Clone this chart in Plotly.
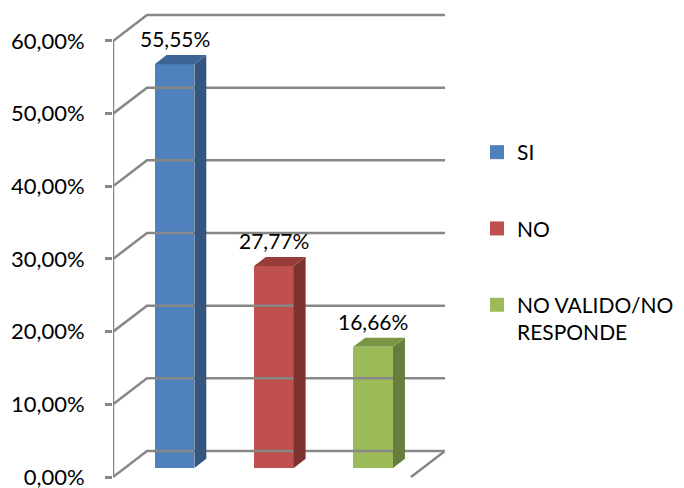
import plotly.graph_objects as go

# ---- data ----
categories = ["SI", "NO", "NO VALIDO/NO<br>RESPONDE"]
values = [55.55, 27.77, 16.66]
value_labels = ["55,55%", "27,77%", "16,66%"]
front_colors = ["#4F81BD", "#C0504D", "#9BBB59"]
side_colors = ["#35577F", "#7E3230", "#677D3B"]
top_colors = ["#3D6697", "#963C39", "#7A9643"]
tick_values = [0, 10, 20, 30, 40, 50, 60]
tick_labels = ["0,00%", "10,00%", "20,00%", "30,00%", "40,00%", "50,00%", "60,00%"]

# ---- geometry (oblique 3D projection) ----
OFF = 8                        # page body margin
W, H = 684 - OFF, 488
L_PX, R_PX = 113 - OFF, 445 - OFF   # plot area in figure pixels
PX_X = 99.3                    # px per category unit
PX_Y = 7.267                   # px per percent unit
ZERO_PX = 477 - OFF            # pixel of 0% on front plane
DX = 34 / PX_X                 # depth shift in x units
DY = 26 / PX_Y                 # depth shift in y units
X_LO = -0.5
X_HI = X_LO + (R_PX - L_PX) / PX_X
Y_HI = ZERO_PX / PX_Y
Y_LO = -(H - ZERO_PX) / PX_Y
D0 = 0.35                      # bar front depth
BD = 0.35                      # bar depth
BW = 0.4                       # bar width
GRID = "#878787"
FONT = "Lato"

def proj(x, y, d):
    return x + d * DX, y + d * DY

fig = go.Figure()

# walls / gridlines
for v in tick_values:
    x0, y0 = proj(X_LO, v, 0)
    x1, y1 = proj(X_LO, v, 1)
    x2, y2 = proj(X_HI - DX, v, 1)
    fig.add_trace(go.Scatter(x=[x0, x1, x2], y=[y0, y1, y2], mode="lines",
                             line=dict(color=GRID, width=2.5), showlegend=False, hoverinfo="skip"))
# front vertical axis line
fig.add_trace(go.Scatter(x=[X_LO, X_LO], y=[0, tick_values[-1]], mode="lines",
                         line=dict(color=GRID, width=2.5), showlegend=False, hoverinfo="skip"))
# floor right edge
fx0, fy0 = proj(X_HI - DX, 0, 0)
fx1, fy1 = proj(X_HI - DX, 0, 1)
fig.add_trace(go.Scatter(x=[fx0, fx1], y=[fy0, fy1], mode="lines",
                         line=dict(color=GRID, width=2.5), showlegend=False, hoverinfo="skip"))

# bars
for i, (c, v) in enumerate(zip(categories, values)):
    cx, base = proj(i, 0, D0)
    xl, xr = cx - BW / 2, cx + BW / 2
    top = v + base
    fig.add_trace(go.Bar(x=[cx], y=[v], base=[base], width=BW, name=c,
                         marker=dict(color=front_colors[i], line=dict(width=0)),
                         showlegend=False, hoverinfo="skip"))
    sx = [xr, xr + BD * DX, xr + BD * DX, xr, xr]
    sy = [base, base + BD * DY, top + BD * DY, top, base]
    fig.add_trace(go.Scatter(x=sx, y=sy, fill="toself", mode="none", fillcolor=side_colors[i],
                             showlegend=False, hoverinfo="skip"))
    tx = [xl, xl + BD * DX, xr + BD * DX, xr, xl]
    ty = [top, top + BD * DY, top + BD * DY, top, top]
    fig.add_trace(go.Scatter(x=tx, y=ty, fill="toself", mode="none", fillcolor=top_colors[i],
                             showlegend=False, hoverinfo="skip"))
    fig.add_annotation(x=cx, y=top + BD * DY, text=value_labels[i], showarrow=False,
                       yanchor="bottom", yshift=2, font=dict(family=FONT, size=21, color="#000"))
    # legend entry (square key)
    fig.add_trace(go.Scatter(x=[None], y=[None], mode="markers", name=c, legendgroup=c,
                             marker=dict(symbol="square", size=14, color=front_colors[i],
                                         line=dict(width=0))))

fig.update_layout(
    width=W, height=H, autosize=False,
    margin=dict(l=L_PX, r=W - R_PX, t=0, b=0, autoexpand=False),
    plot_bgcolor="white", paper_bgcolor="white",
    bargap=0, barmode="overlay",
    font=dict(family=FONT, size=21, color="#000"),
    xaxis=dict(range=[X_LO, X_HI], showgrid=False, zeroline=False, showticklabels=False,
               showline=False, ticks="", automargin=False),
    yaxis=dict(range=[Y_LO, Y_HI], showgrid=False, zeroline=False, showline=False,
               tickvals=tick_values, ticktext=tick_labels, ticks="outside", ticklen=7,
               tickcolor=GRID, tickwidth=2.5, ticklabelstandoff=16, automargin=False,
               ticklabeloverflow="allow",
               tickfont=dict(family=FONT, size=22, color="#000")),
    legend=dict(x=(477 - L_PX - OFF) / (R_PX - L_PX), xanchor="left", y=1 - (132 - OFF) / H,
                yanchor="top", traceorder="grouped", tracegroupgap=46, valign="top",
                font=dict(family=FONT, size=21, color="#000"), itemwidth=30),
    showlegend=True,
)

fig.write_html("out.html")
